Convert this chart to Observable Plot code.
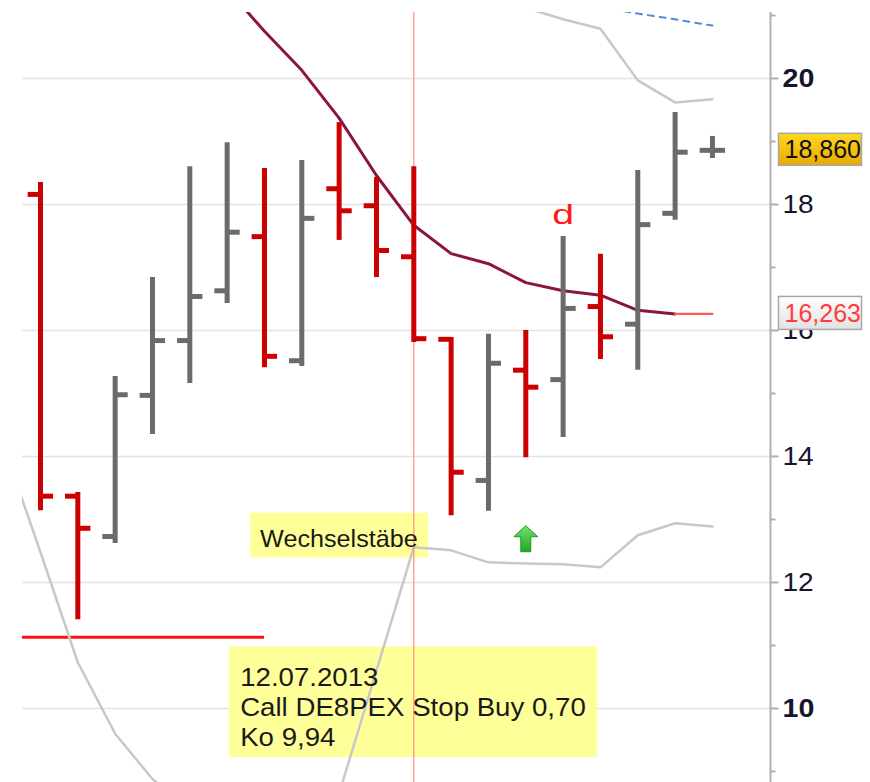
<!DOCTYPE html>
<html><head><meta charset="utf-8">
<script src="https://cdn.jsdelivr.net/npm/d3@7"></script>
<script src="https://cdn.jsdelivr.net/npm/@observablehq/plot@0.6"></script>
<style>
html,body{margin:0;padding:0;background:#fff;}
#chart{width:870px;height:782px;overflow:hidden;}
</style></head><body><div id="chart"></div>
<script>
// ---- data (bar index 0..18) ----
const barIndex = d3.range(19);
const opens  = [18.16, 13.37, 12.73, 14.97, 15.84, 16.63, 17.49, 15.52, 18.25, 17.98, 17.17, 15.86, 13.62, 15.37, 15.22, 16.38, 16.10, 17.86, 18.86];
const highs  = [18.35, 13.43, 15.27, 16.84, 18.60, 18.98, 18.57, 18.70, 19.30, 18.43, 18.60, 15.89, 15.94, 16.00, 17.49, 17.21, 18.54, 19.46, 19.08];
const lows   = [13.14, 11.41, 12.62, 14.35, 15.16, 16.43, 15.41, 15.43, 17.43, 16.84, 15.81, 13.06, 13.13, 13.98, 14.30, 15.54, 15.37, 17.75, 18.73];
const closes = [13.37, 12.86, 14.98, 15.84, 16.54, 17.56, 15.59, 17.78, 17.90, 17.27, 15.87, 13.75, 15.48, 15.10, 16.35, 15.90, 17.68, 18.83, 18.86];

const maIndex = [5, 6, 7, 8, 9, 10, 11, 12, 13, 14, 15, 16, 17];
const maValues = [21.42, 20.75, 20.13, 19.37, 18.46, 17.67, 17.22, 17.06, 16.76, 16.63, 16.56, 16.32, 16.263];
const maLastIndex = [17, 18];
const maLast = 16.263;

const upperIndex = [13, 14, 15, 16, 17, 18];
const upperValues = [21.12, 20.94, 20.79, 19.97, 19.62, 19.67];

const lowerIndex = [-1, 0, 1, 2, 3, 4, 5, 6, 7, 8, 9, 10, 11, 12, 13, 14, 15, 16, 17, 18];
const lowerValues = [14.19, 12.48, 10.73, 9.60, 8.88, 8.40, 8.20, 8.10, 8.30, 8.65, 10.60, 12.56, 12.51, 12.32, 12.30, 12.29, 12.24, 12.75, 12.94, 12.89];

const blueIndex = [15, 16, 17, 18];
const blueValues = [21.13, 21.03, 20.94, 20.84];

const stopLevel = 11.13, stopFrom = -1, stopTo = 6;
const signalBar = 10;       // vertical marker
const dBar = 14;            // "d" marker
const arrowBar = 13;        // buy arrow

const majorTicks = [12, 14, 16, 18];
const boldTicks = [10, 20];
const minorTicks = [9, 11, 13, 15, 17, 19, 21];
const lastLabel = "18,860", lastValue = 18.86;
const maLabel = "16,263";
const noteSwitch = "Wechselstäbe";
const noteTrade = "12.07.2013\nCall DE8PEX Stop Buy 0,70\nKo 9,94";

// ---- derived tables ----
const ohlc = barIndex.map(i => ({i, o: opens[i], h: highs[i], l: lows[i], c: closes[i], up: closes[i] >= opens[i]}));
const ma = maIndex.map((i, k) => ({i, v: maValues[k]}));
const maExt = maLastIndex.map(i => ({i, v: maLast}));
const upper = upperIndex.map((i, k) => ({i, v: upperValues[k]}));
const lower = lowerIndex.map((i, k) => ({i, v: lowerValues[k]}));
const blue = blueIndex.map((i, k) => ({i, v: blueValues[k]}));

const RED = "#cc0000", GREY = "#6b6b6b";
const FONT = "Liberation Sans, Arial, sans-serif";
const xDomain = [-0.482, 19.555];
const tickOpen = 0.33, tickClose = 0.35;

const hline = len => ({draw(ctx) { ctx.moveTo(0, 0); ctx.lineTo(len, 0); }});
const arrowSym = {draw(ctx) {
  ctx.moveTo(0, -13); ctx.lineTo(12, -2); ctx.lineTo(5, -2); ctx.lineTo(5, 13);
  ctx.lineTo(-5, 13); ctx.lineTo(-5, -2); ctx.lineTo(-12, -2); ctx.closePath();
}};

const svg = Plot.plot({
  width: 870, height: 782,
  marginLeft: 22, marginRight: 100, marginTop: 12, marginBottom: 0,
  x: {domain: xDomain, axis: null},
  y: {domain: [8.825, 21.0476], axis: null},
  style: {background: "white", fontFamily: FONT, overflow: "visible"},
  marks: [
    Plot.ruleY([...majorTicks, ...boldTicks], {stroke: "#e3e3e3", strokeWidth: 1.6, ariaDescription: "grid"}),
    Plot.ruleX([xDomain[1]], {stroke: "#b0b0b0", strokeWidth: 2}),
    Plot.dot([...majorTicks, ...boldTicks], {y: d => d, frameAnchor: "right", symbol: hline(8), fill: "none", stroke: "#b0b0b0", strokeWidth: 2}),
    Plot.dot(minorTicks, {y: d => d, frameAnchor: "right", symbol: hline(5), fill: "none", stroke: "#b0b0b0", strokeWidth: 2}),
    Plot.text(majorTicks, {y: d => d, text: d => String(d), frameAnchor: "right", dx: 12, textAnchor: "start", fontSize: 26, fill: "#15152e", ariaDescription: "ticklabels"}),
    Plot.text(boldTicks, {y: d => d, text: d => String(d), frameAnchor: "right", dx: 12, textAnchor: "start", fontSize: 26, fontWeight: "bold", fill: "#15152e", ariaDescription: "ticklabels-bold"}),
    Plot.ruleY([{v: stopLevel, a: stopFrom, b: stopTo}], {y: "v", x1: "a", x2: "b", stroke: "#ff1010", strokeWidth: 3, clip: true}),
    Plot.line(lower, {x: "i", y: "v", stroke: "#c8c8c8", strokeWidth: 2.5, clip: true}),
    Plot.line(upper, {x: "i", y: "v", stroke: "#c8c8c8", strokeWidth: 2.5, clip: true}),
    Plot.line(blue, {x: "i", y: "v", stroke: "#4a8fdc", strokeWidth: 2, strokeDasharray: "6,6", clip: true}),
    Plot.ruleX([signalBar], {stroke: "#ff8c8c", strokeWidth: 1.2}),
    Plot.line(ma, {x: "i", y: "v", stroke: "#8c1444", strokeWidth: 3, clip: true}),
    Plot.line(maExt, {x: "i", y: "v", stroke: "#ff5a5a", strokeWidth: 2.2}),
    // OHLC bars
    Plot.ruleX(ohlc, {filter: d => !d.up, x: "i", y1: "l", y2: "h", stroke: RED, strokeWidth: 5}),
    Plot.ruleX(ohlc, {filter: d => d.up, x: "i", y1: "l", y2: "h", stroke: GREY, strokeWidth: 5}),
    Plot.ruleY(ohlc, {filter: d => !d.up, y: "o", x1: d => d.i - tickOpen, x2: "i", stroke: RED, strokeWidth: 5}),
    Plot.ruleY(ohlc, {filter: d => d.up, y: "o", x1: d => d.i - tickOpen, x2: "i", stroke: GREY, strokeWidth: 5}),
    Plot.ruleY(ohlc, {filter: d => !d.up, y: "c", x1: "i", x2: d => d.i + tickClose, stroke: RED, strokeWidth: 5}),
    Plot.ruleY(ohlc, {filter: d => d.up, y: "c", x1: "i", x2: d => d.i + tickClose, stroke: GREY, strokeWidth: 5}),
    // annotations
    Plot.text([{i: dBar, v: highs[dBar]}], {x: "i", y: "v", text: () => "d", dy: -13, lineAnchor: "bottom", fontSize: 28, fill: "#ff1a1a", ariaDescription: "letter-d"}),
    Plot.dot([{i: arrowBar, v: lows[arrowBar]}], {x: "i", y: "v", dy: 81, symbol: arrowSym, fill: "#3cc43c", stroke: "#1f9a1f", strokeWidth: 1, ariaDescription: "arrow"}),
    Plot.text([{i: signalBar, v: lowerValues[lowerIndex.indexOf(signalBar)]}], {x: "i", y: "v", text: () => noteSwitch, dx: 4, textAnchor: "end", lineAnchor: "bottom", fontSize: 24, fill: "#1a1a1a", ariaDescription: "note-switch"}),
    Plot.text([{i: 5, v: stopLevel}], {x: "i", y: "v", text: () => noteTrade, dx: 13, dy: 27, textAnchor: "start", lineAnchor: "top", lineHeight: 1.2, fontSize: 25, fill: "#1a1a1a", ariaDescription: "note-trade"}),
    Plot.text([lastValue], {y: d => d, text: () => lastLabel, frameAnchor: "right", dx: 14, textAnchor: "start", fontSize: 25, fill: "#111111", ariaDescription: "price-last"}),
    Plot.text([maLast], {y: d => d, text: () => maLabel, frameAnchor: "right", dx: 14, textAnchor: "start", fontSize: 25, fill: "#ff3c3c", ariaDescription: "price-ma"})
  ]
});

document.getElementById("chart").append(svg);

const NS = "http://www.w3.org/2000/svg";
const findG = key => svg.querySelector(`[aria-description="${key}"]`);
// gradients
const defs = d3.select(svg).insert("defs", ":first-child");
function grad(id, c0, c1) {
  const g = defs.append("linearGradient").attr("id", id).attr("x1", 0).attr("y1", 0).attr("x2", 0).attr("y2", 1);
  g.append("stop").attr("offset", "0%").attr("stop-color", c0);
  g.append("stop").attr("offset", "100%").attr("stop-color", c1);
}
grad("goldGrad", "#ffd81e", "#eaa900");
grad("greyGrad", "#ffffff", "#e2e2e2");
grad("greenGrad", "#6fe06f", "#22a822");
{ const g = findG("arrow"); if (g) g.querySelectorAll("path").forEach(p => p.setAttribute("fill", "url(#greenGrad)")); }

function stretch(key, sx, anchor) {
  const g = findG(key); if (!g) return;
  g.querySelectorAll("text").forEach(el => {
    const b = el.getBBox();
    const ox = anchor === "start" ? b.x : anchor === "end" ? b.x + b.width : b.x + b.width / 2;
    const t = el.getAttribute("transform") || "";
    el.setAttribute("transform", `${t} translate(${ox},0) scale(${sx},1) translate(${-ox},0)`);
  });
}
stretch("ticklabels", 1.08, "start");
stretch("ticklabels-bold", 1.1, "start");
stretch("letter-d", 1.4, "middle");
stretch("note-switch", 1.05, "end");
stretch("note-trade", 1.106, "start");

function box(key, opt, where) {
  const g = findG(key); if (!g) return;
  const bg = document.createElementNS(NS, "g");
  g.querySelectorAll("text").forEach(el => {
    const b = el.getBBox(), m = el.getCTM();
    const x0 = m.a * b.x + m.e, x1 = m.a * (b.x + b.width) + m.e;
    const y0 = m.d * b.y + m.f, y1 = m.d * (b.y + b.height) + m.f;
    let rx, ry, rw, rh;
    if (opt.w) { rx = x0 - opt.l; rw = opt.w; const cy = (y0 + y1) / 2; ry = cy - opt.h / 2; rh = opt.h; }
    else { rx = x0 - opt.l; rw = x1 - x0 + opt.l + opt.r; ry = y0 - opt.t; rh = y1 - y0 + opt.t + opt.b; }
    const r = document.createElementNS(NS, "rect");
    r.setAttribute("x", rx); r.setAttribute("y", ry); r.setAttribute("width", rw); r.setAttribute("height", rh);
    r.setAttribute("fill", opt.fill);
    if (opt.stroke) { r.setAttribute("stroke", opt.stroke); r.setAttribute("stroke-width", 1.5); }
    bg.appendChild(r);
  });
  const ref = where ? findG(where) : g;
  if (!ref) return;
  if (where) ref.parentNode.insertBefore(bg, ref.nextSibling); else ref.parentNode.insertBefore(bg, ref);
}
box("note-switch", {l: 10, r: 10, t: 13, b: 5.5, fill: "#ffff99"}, "grid");
box("note-trade", {l: 11.4, r: 11.3, t: 16.4, b: 5.7, fill: "#ffff99"}, "grid");
box("price-last", {l: 6, w: 83, h: 32, fill: "url(#goldGrad)", stroke: "#a8a8a8"});
box("price-ma", {l: 6, w: 83, h: 33, fill: "url(#greyGrad)", stroke: "#a8a8a8"});
</script></body></html>
